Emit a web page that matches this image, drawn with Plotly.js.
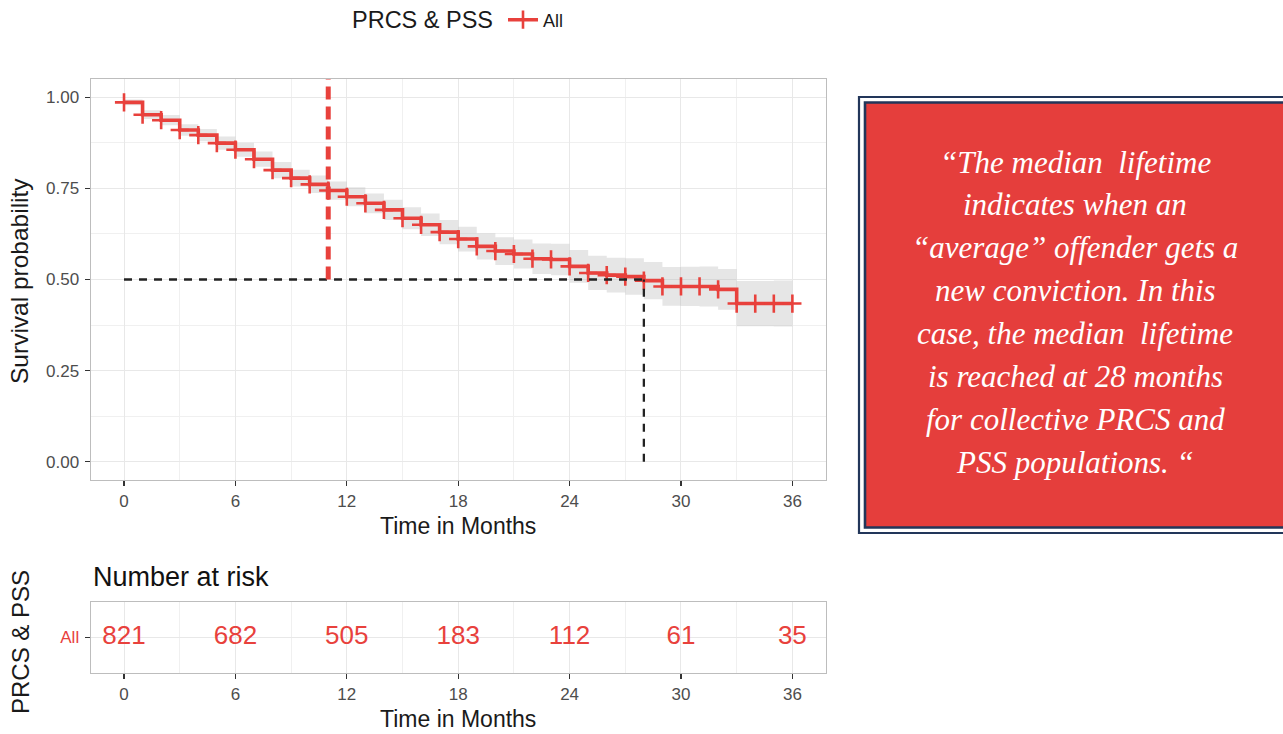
<!DOCTYPE html>
<html>
<head>
<meta charset="utf-8">
<script src="https://cdn.plot.ly/plotly-3.0.1.min.js"></script>
<style>
  html, body { margin: 0; padding: 0; background: #ffffff; }
  #chart { width: 1283px; height: 734px; }
</style>
</head>
<body>
<div id="chart"></div>
<script>
// ---------------- data ----------------
const months = [0,1,2,3,4,5,6,7,8,9,10,11,12,13,14,15,16,17,18,19,20,21,22,23,24,25,26,27,28,29,30,31,32,33,34,35,36];
const survAll = [0.986,0.952,0.937,0.910,0.896,0.874,0.856,0.830,0.800,0.778,0.761,0.744,0.727,0.709,0.691,0.668,0.650,0.630,0.611,0.591,0.578,0.570,0.557,0.555,0.536,0.518,0.512,0.508,0.497,0.481,0.481,0.481,0.473,0.434,0.434,0.434,0.434];
const survUpper = [0.994,0.964,0.951,0.926,0.913,0.892,0.875,0.851,0.822,0.801,0.785,0.769,0.753,0.736,0.719,0.698,0.681,0.663,0.645,0.627,0.616,0.610,0.599,0.598,0.581,0.565,0.560,0.558,0.548,0.534,0.535,0.536,0.529,0.496,0.496,0.497,0.497];
const survLower = [0.978,0.940,0.923,0.894,0.879,0.856,0.837,0.809,0.778,0.755,0.737,0.719,0.701,0.682,0.663,0.638,0.619,0.597,0.577,0.555,0.540,0.530,0.515,0.512,0.491,0.471,0.464,0.458,0.446,0.428,0.427,0.426,0.417,0.372,0.372,0.371,0.371];

const riskTimes = [0,6,12,18,24,30,36];
const riskCounts = [821,682,505,183,112,61,35];
const riskStrata = ['All','All','All','All','All','All','All'];

const medianTime = 28;
const medianSurv = 0.5;
const highlightMonth = 11;

const xTickVals = [0,6,12,18,24,30,36];
const xTickText = ['0','6','12','18','24','30','36'];
const xMinorVals = [3,9,15,21,27,33];
const yTickVals = [0,0.25,0.5,0.75,1];
const yTickText = ['0.00','0.25','0.50','0.75','1.00'];
const yMinorVals = [0.125,0.375,0.625,0.875];

const legendTitle = 'PRCS & PSS';
const seriesName = 'All';
const quoteLines = [
  '\u201CThe median  lifetime',
  'indicates when an',
  '\u201Caverage\u201D offender gets a',
  'new conviction. In this',
  'case, the median  lifetime',
  'is reached at 28 months',
  'for collective PRCS and',
  'PSS populations. \u201C'
];

// ---------------- styling helpers ----------------
const W = 1283, H = 734;
const px = v => v / W;
const py = v => 1 - v / H;
const RED = '#E8413C';
const SANS = 'Liberation Sans, Arial, Helvetica, sans-serif';
const TICKC = '#4d4d4d';

const traces = [
  { x: months, y: survUpper, type: 'scatter', mode: 'lines',
    line: { shape: 'hv', width: 0, color: 'rgba(0,0,0,0)' },
    showlegend: false, hoverinfo: 'skip', xaxis: 'x', yaxis: 'y' },
  { x: months, y: survLower, type: 'scatter', mode: 'lines',
    line: { shape: 'hv', width: 0, color: 'rgba(0,0,0,0)' },
    fill: 'tonexty', fillcolor: 'rgba(185,185,185,0.36)',
    showlegend: false, hoverinfo: 'skip', xaxis: 'x', yaxis: 'y' },
  { x: months, y: survAll, type: 'scatter', mode: 'lines+markers', name: seriesName,
    line: { shape: 'hv', width: 3.6, color: RED },
    marker: { symbol: 'cross-thin', size: 13, color: RED, line: { width: 2.6, color: RED } },
    xaxis: 'x', yaxis: 'y' },
  { x: riskTimes, y: riskStrata, text: riskCounts.map(String), type: 'scatter', mode: 'text',
    textposition: 'middle center',
    textfont: { family: SANS, size: 26, color: RED },
    showlegend: false, hoverinfo: 'skip', xaxis: 'x2', yaxis: 'y2' }
];

const xCommon = {
  range: [-1.8, 37.8],
  tickmode: 'array', tickvals: xTickVals, ticktext: xTickText,
  ticks: 'outside', ticklen: 5, tickwidth: 1.2, tickcolor: '#333333',
  tickfont: { family: SANS, size: 17, color: TICKC },
  ticklabelstandoff: 1,
  showgrid: true, gridcolor: '#e8e8e8', gridwidth: 1,
  minor: { tickmode: 'array', tickvals: xMinorVals, showgrid: true, gridcolor: '#f0f0f0', gridwidth: 1, ticks: '' },
  showline: true, mirror: true, linecolor: '#bdbdbd', linewidth: 1,
  zeroline: false, fixedrange: true,
  title: { text: 'Time in Months', font: { family: SANS, size: 23, color: '#1a1a1a' }, standoff: 7 }
};

const layout = {
  width: W, height: H,
  margin: { l: 0, r: 0, t: 0, b: 0 },
  paper_bgcolor: '#ffffff', plot_bgcolor: '#ffffff',
  showlegend: true,
  hovermode: false,
  font: { family: SANS },
  legend: {
    orientation: 'h', x: px(503), y: py(20), xanchor: 'left', yanchor: 'middle',
    font: { family: SANS, size: 18, color: '#1a1a1a' },
    bgcolor: 'rgba(0,0,0,0)', itemwidth: 30
  },
  xaxis: Object.assign({}, xCommon, {
    domain: [px(90.6), px(825.8)], anchor: 'y'
  }),
  yaxis: {
    domain: [py(480), py(79)], anchor: 'x',
    range: [-0.05, 1.05],
    tickmode: 'array', tickvals: yTickVals, ticktext: yTickText,
    ticks: 'outside', ticklen: 5, tickwidth: 1.2, tickcolor: '#333333',
    tickfont: { family: SANS, size: 17, color: TICKC },
    ticklabelstandoff: 2,
    showgrid: true, gridcolor: '#e8e8e8', gridwidth: 1,
    minor: { tickmode: 'array', tickvals: yMinorVals, showgrid: true, gridcolor: '#f0f0f0', gridwidth: 1, ticks: '' },
    showline: true, mirror: true, linecolor: '#bdbdbd', linewidth: 1,
    zeroline: false, fixedrange: true
  },
  xaxis2: Object.assign({}, xCommon, {
    domain: [px(90.6), px(825.8)], anchor: 'y2'
  }),
  yaxis2: {
    domain: [py(673), py(602)], anchor: 'x2',
    type: 'category', range: [-0.6, 0.6],
    ticks: 'outside', ticklen: 5, tickwidth: 1.2, tickcolor: '#333333',
    tickfont: { family: SANS, size: 17, color: RED },
    ticklabelstandoff: 2,
    showgrid: true, gridcolor: '#e8e8e8', gridwidth: 1,
    showline: true, mirror: true, linecolor: '#bdbdbd', linewidth: 1,
    zeroline: false, fixedrange: true
  },
  shapes: [
    // median guide lines
    { type: 'line', xref: 'x', yref: 'y', x0: 0, x1: medianTime, y0: medianSurv, y1: medianSurv,
      line: { color: '#222222', width: 2.3, dash: '8px,7px' }, layer: 'above' },
    { type: 'line', xref: 'x', yref: 'y', x0: medianTime, x1: medianTime, y0: 0, y1: medianSurv,
      line: { color: '#222222', width: 2.3, dash: '8px,7px' }, layer: 'above' },
    // highlighted red dashed line
    { type: 'line', xref: 'x', yref: 'y', x0: highlightMonth, x1: highlightMonth, y0: medianSurv, y1: 1.06,
      line: { color: RED, width: 5, dash: '13px,7px' }, layer: 'above' },
    // quote box
    { type: 'rect', xref: 'paper', yref: 'paper', x0: px(859), x1: px(1300), y0: py(533), y1: py(97),
      line: { color: '#22365a', width: 2.2 }, fillcolor: '#ffffff', layer: 'above' },
    { type: 'rect', xref: 'paper', yref: 'paper', x0: px(865), x1: px(1300), y0: py(527.5), y1: py(102.5),
      line: { color: '#22365a', width: 2.6 }, fillcolor: '#E53E3C', layer: 'above' }
  ],
  annotations: [
    { text: legendTitle, xref: 'paper', yref: 'paper', x: px(350), y: py(20),
      xanchor: 'left', yanchor: 'middle', showarrow: false,
      font: { family: SANS, size: 23.5, color: '#1a1a1a' } },
    { text: 'Survival probability', xref: 'paper', yref: 'paper', x: px(20), y: py(281),
      xanchor: 'center', yanchor: 'middle', textangle: -90, showarrow: false,
      font: { family: SANS, size: 24.5, color: '#1a1a1a' } },
    { text: legendTitle, xref: 'paper', yref: 'paper', x: px(20), y: py(642),
      xanchor: 'center', yanchor: 'middle', textangle: -90, showarrow: false,
      font: { family: SANS, size: 24, color: '#1a1a1a' } },
    { text: 'Number at risk', xref: 'paper', yref: 'paper', x: px(91), y: py(577),
      xanchor: 'left', yanchor: 'middle', showarrow: false,
      font: { family: SANS, size: 27, color: '#111111' } }
  ]
};

quoteLines.forEach((t, i) => {
  layout.annotations.push({
    text: '<i>' + t + '</i>', xref: 'paper', yref: 'paper',
    x: px(1075), y: py(162 + i * 42.9), xanchor: 'center', yanchor: 'middle',
    showarrow: false,
    font: { family: 'Liberation Serif, Times New Roman, serif', size: 31, color: '#ffffff' }
  });
});

Plotly.newPlot('chart', traces, layout, { displayModeBar: false, staticPlot: true });
</script>
</body>
</html>
